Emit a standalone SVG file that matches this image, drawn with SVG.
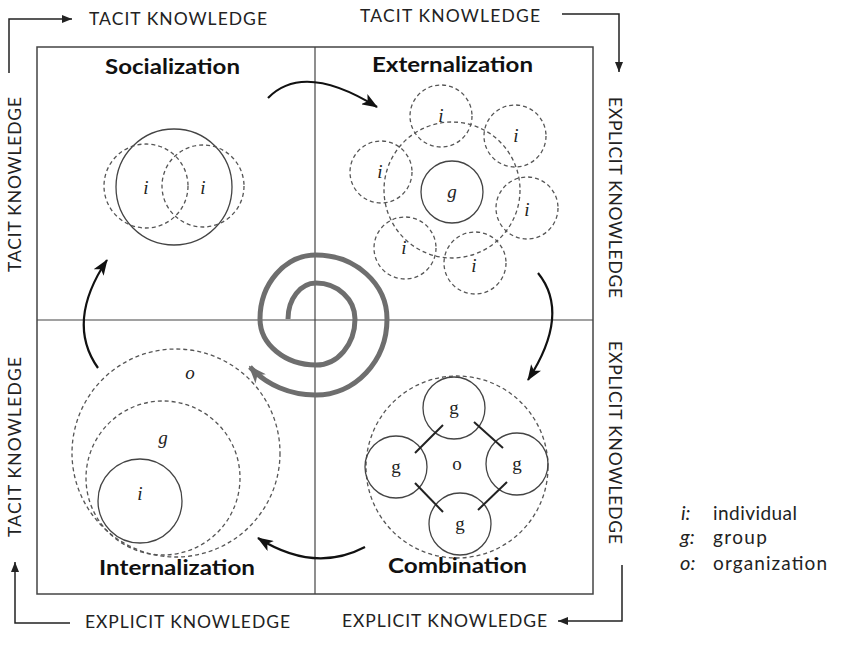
<svg xmlns="http://www.w3.org/2000/svg" width="850" height="650" viewBox="0 0 850 650">
<defs>
<style>
.lbl{font-family:Lato,"Open Sans","Liberation Sans",sans-serif;font-size:17.5px;fill:#222;}
.ttl{font-family:Lato,"Open Sans","Liberation Sans",sans-serif;font-size:20px;font-weight:bold;fill:#111;}
.var{font-family:"Liberation Serif",serif;font-style:italic;font-size:19px;fill:#222;text-anchor:middle;}
.up{font-style:normal;}
.sol{fill:none;stroke:#444;stroke-width:1.3;}
.link{fill:none;stroke:#222;stroke-width:2;}
.dsh{fill:none;stroke:#555;stroke-width:1.3;stroke-dasharray:4 3;}
.frame{fill:none;stroke:#444;stroke-width:1.5;}
.mid{fill:none;stroke:#444;stroke-width:1.2;}
.cyc{fill:none;stroke:#111;stroke-width:2.2;}
.side{fill:none;stroke:#222;stroke-width:1.5;}
.leg{font-family:Lato,"Open Sans","Liberation Sans",sans-serif;font-size:19px;fill:#222;}
.legv{font-family:Lato,"Open Sans","Liberation Sans",sans-serif;font-style:italic;font-size:20px;fill:#222;}
</style>
<marker id="ah" viewBox="0 0 16 12" refX="15" refY="6" markerWidth="16" markerHeight="12" markerUnits="userSpaceOnUse" orient="auto">
<path d="M0,0 L16,6 L0,12 L4,6 Z" fill="#111"/>
</marker>
<marker id="sa" viewBox="0 0 10 8" refX="10" refY="4" markerWidth="10" markerHeight="8" markerUnits="userSpaceOnUse" orient="auto">
<path d="M0,0 L10,4 L0,8 Z" fill="#222"/>
</marker>
<marker id="ga" viewBox="0 0 18 14" refX="16" refY="7" markerWidth="18" markerHeight="14" markerUnits="userSpaceOnUse" orient="auto">
<path d="M0,0 L18,7 L0,14 L5,7 Z" fill="#6e6e6e"/>
</marker>
</defs>

<g id="frame">
<rect class="frame" x="37" y="47" width="556" height="547"/>
<line class="mid" x1="315" y1="47" x2="315" y2="594"/>
<line class="mid" x1="37" y1="320" x2="593" y2="320"/>
</g>

<g id="spiral">
<path d="M288,319 A28,36 0 0 1 316,283 A39,36 0 0 1 355,319 A39,46 0 0 1 316,365 A56,46 0 0 1 260,319 A56,64 0 0 1 316,255 A71,64 0 0 1 387,319 A71,76 0 0 1 316,395 A84,76 0 0 1 250,367" fill="none" stroke="#6e6e6e" stroke-width="5" marker-end="url(#ga)"/>
</g>

<g id="connectors">
<path class="cyc" d="M268,98 Q303.5,61.5 377,107" marker-end="url(#ah)"/>
<path class="cyc" d="M538,273 Q571,313.5 528,380" marker-end="url(#ah)"/>
<path class="cyc" d="M365,547 Q314.5,573.5 258,538" marker-end="url(#ah)"/>
<path class="cyc" d="M98,368 Q65.5,322 107,260" marker-end="url(#ah)"/>
<path class="side" d="M9,73 L9,19 L72,19" marker-end="url(#sa)"/>
<path class="side" d="M562,14 L619,14 L619,72" marker-end="url(#sa)"/>
<path class="side" d="M622,565 L622,621 L558,621" marker-end="url(#sa)"/>
<path class="side" d="M70,623 L15,623 L15,562" marker-end="url(#sa)"/>
</g>

<g id="axis-labels">
<text class="lbl" x="89" y="25" textLength="178">TACIT KNOWLEDGE</text>
<text class="lbl" x="360" y="22" textLength="180">TACIT KNOWLEDGE</text>
<text class="lbl" x="85" y="628" textLength="205">EXPLICIT KNOWLEDGE</text>
<text class="lbl" x="342" y="627" textLength="205">EXPLICIT KNOWLEDGE</text>
<text class="lbl" transform="translate(609,197) rotate(90)" x="-100" y="0" textLength="201">EXPLICIT KNOWLEDGE</text>
<text class="lbl" transform="translate(609,443) rotate(90)" x="-102" y="0" textLength="203">EXPLICIT KNOWLEDGE</text>
<text class="lbl" transform="translate(21,184) rotate(-90)" x="-88" y="0" textLength="175">TACIT KNOWLEDGE</text>
<text class="lbl" transform="translate(21,447) rotate(-90)" x="-90" y="0" textLength="180">TACIT KNOWLEDGE</text>
</g>

<g id="socialization">
<text class="ttl" x="105" y="74" textLength="135" lengthAdjust="spacingAndGlyphs">Socialization</text>
<circle class="sol" cx="174" cy="187" r="58"/>
<circle class="dsh" cx="146" cy="186" r="42"/>
<circle class="dsh" cx="203" cy="186" r="41"/>
<text class="var" x="146" y="194">i</text>
<text class="var" x="203" y="194">i</text>
</g>

<g id="externalization">
<text class="ttl" x="372" y="72" textLength="161" lengthAdjust="spacingAndGlyphs">Externalization</text>
<circle class="dsh" cx="452" cy="190" r="68"/>
<circle class="dsh" cx="441" cy="116" r="31"/>
<circle class="dsh" cx="515" cy="136" r="31"/>
<circle class="dsh" cx="381" cy="172" r="31"/>
<circle class="dsh" cx="527" cy="208" r="31"/>
<circle class="dsh" cx="405" cy="248" r="31"/>
<circle class="dsh" cx="475" cy="263" r="31"/>
<circle class="sol" cx="452" cy="192" r="31"/>
<text class="var" x="452" y="198">g</text>
<text class="var" x="441" y="122">i</text>
<text class="var" x="516" y="142">i</text>
<text class="var" x="380" y="178">i</text>
<text class="var" x="527" y="216">i</text>
<text class="var" x="404" y="254">i</text>
<text class="var" x="474" y="272">i</text>
</g>

<g id="internalization">
<text class="ttl" x="99" y="575" textLength="156" lengthAdjust="spacingAndGlyphs">Internalization</text>
<circle class="dsh" cx="176" cy="453" r="104"/>
<circle class="dsh" cx="163" cy="478" r="77"/>
<circle class="sol" cx="140" cy="501" r="42"/>
<text class="var" x="190" y="379">o</text>
<text class="var" x="163" y="444">g</text>
<text class="var" x="140" y="500">i</text>
</g>

<g id="combination">
<text class="ttl" x="388" y="573" textLength="139" lengthAdjust="spacingAndGlyphs">Combination</text>
<circle class="dsh" cx="457" cy="467" r="91"/>
<circle class="sol" cx="454" cy="408" r="31"/>
<circle class="sol" cx="396" cy="467" r="31"/>
<circle class="sol" cx="517" cy="464" r="31"/>
<circle class="sol" cx="460" cy="524" r="31"/>
<line class="link" x1="443" y1="425" x2="415" y2="453"/>
<line class="link" x1="474" y1="422" x2="503" y2="448"/>
<line class="link" x1="415" y1="483" x2="443" y2="512"/>
<line class="link" x1="507" y1="482" x2="478" y2="510"/>
<text class="var up" x="454" y="414">g</text>
<text class="var up" x="396" y="473">g</text>
<text class="var up" x="517" y="470">g</text>
<text class="var up" x="460" y="530">g</text>
<text class="var up" x="457" y="470">o</text>
</g>

<g id="legend">
<text class="legv" x="681" y="520">i:</text>
<text class="leg" x="713" y="520" textLength="84">individual</text>
<text class="legv" x="680" y="544">g:</text>
<text class="leg" x="713" y="544" textLength="54">group</text>
<text class="legv" x="680" y="570">o:</text>
<text class="leg" x="713" y="570" textLength="114">organization</text>
</g>
</svg>
